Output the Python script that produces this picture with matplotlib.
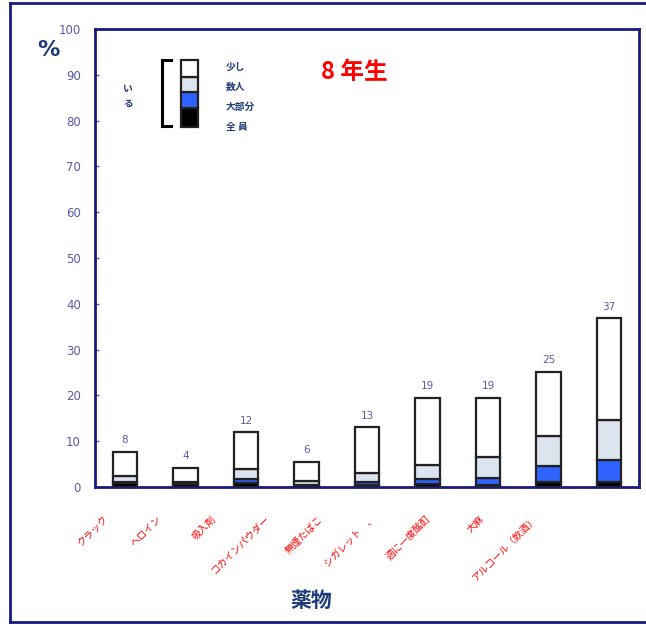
import numpy as np
import matplotlib
matplotlib.use('Agg')
import matplotlib.pyplot as plt
from matplotlib.patches import Rectangle
from matplotlib.lines import Line2D
from matplotlib.transforms import blended_transform_factory

plt.rcParams['font.family'] = ['Noto Sans CJK JP', 'DejaVu Sans']

# drugs (x categories)
drugs = ['クラック', 'ヘロイン', '吸入剤', 'コカインパウダー', '無煙たばこ',
         'シガレット　、', '週に一度酩酊', '大麻', 'アルコール（飲酒）']
# friends who use: all / most / some / a few  (% of 8th graders)
all_friends = [0.8, 0.6, 0.8, 0.5, 0.5, 0.6, 0.5, 1.0, 1.0]
most_friends = [0.2, 0.0, 0.9, 0.0, 0.5, 1.1, 1.4, 3.5, 4.9]
some_friends = [1.3, 0.6, 2.3, 0.8, 2.1, 3.1, 4.7, 6.7, 8.8]
few_friends = [5.3, 2.9, 7.9, 4.1, 9.9, 14.6, 12.8, 13.9, 22.1]
total_labels = ['8', '4', '12', '6', '13', '19', '19', '25', '37']

seg_names = ['全 員', '大部分', '数人', '少し']
seg_colors = ['#000000', '#2f62ff', '#dce4ee', '#ffffff']

navy = '#1a1a80'
tick_col = '#5a5aa6'

fig = plt.figure(figsize=(6.46, 6.25), dpi=100)
ax = fig.add_axes([0.1467, 0.2208, 0.843, 0.7328])

x = np.arange(len(drugs))
bottom = np.zeros(len(drugs))
for vals, col in zip([all_friends, most_friends, some_friends, few_friends], seg_colors):
    ax.bar(x, vals, bottom=bottom, width=0.41, color=col,
           edgecolor='#222222', linewidth=1.6, zorder=3)
    bottom = bottom + np.array(vals)

for xi, top, lab in zip(x, bottom, total_labels):
    ax.annotate(lab, (xi, top), xytext=(0, 5), textcoords='offset points',
                ha='center', va='bottom', fontsize=7.5, color=tick_col,
                family='DejaVu Sans')

ax.set_xlim(-0.5, 8.5)
ax.set_ylim(0, 100)
ax.set_yticks(np.arange(0, 101, 10))
ax.set_yticklabels([str(v) for v in range(0, 101, 10)], family='DejaVu Sans')
ax.tick_params(axis='y', direction='in', length=3, width=1, color=tick_col,
               labelcolor=tick_col, labelsize=8.5, pad=10)
ax.set_xticks([])
for sp in ax.spines.values():
    sp.set_color(navy)
    sp.set_linewidth(2)

# rotated drug names
trans = blended_transform_factory(ax.transData, ax.transAxes)
for i, name in enumerate(drugs):
    ax.text(-0.25 + 0.888 * i, -0.058, name, transform=trans, rotation=45,
            ha='right', va='top', fontsize=7, color='#ff0000', clip_on=False)

ax.text(0.397, -0.247, '薬物', transform=ax.transAxes, ha='center', va='center',
        fontsize=15, fontweight='bold', color='#1f3a78')
fig.text(48 / 646, 1 - 50 / 625, '%', ha='center', va='center', fontsize=16,
         fontweight='bold', color='#1f3a78', family='DejaVu Sans')

ax.text(0.476, 0.906, '8 年生', transform=ax.transAxes, ha='center', va='center',
        fontsize=17, fontweight='bold', color='#ff0000')

# legend: small stacked bar with bracket
leg_y = [0.786, 0.828, 0.862, 0.895, 0.932]
for k, col in enumerate(seg_colors):
    ax.add_patch(Rectangle((0.158, leg_y[k]), 0.032, leg_y[k + 1] - leg_y[k],
                           transform=ax.transAxes, facecolor=col,
                           edgecolor='#222222', linewidth=1.6, zorder=4))
lab_y = [0.786, 0.830, 0.873, 0.917]
for name, yy in zip(seg_names, lab_y):
    ax.text(0.241, yy, name, transform=ax.transAxes, ha='left', va='center',
            fontsize=7, fontweight='bold', color='#1f3a78')
bx, tx = 0.123, 0.140
ax.add_line(Line2D([tx, bx, bx, tx], [0.932, 0.932, 0.788, 0.788],
                   transform=ax.transAxes, color='black', linewidth=2.2,
                   solid_joinstyle='miter'))
ax.text(0.061, 0.853, 'い\nる', transform=ax.transAxes, ha='center', va='center',
        fontsize=7, fontweight='bold', color='#1f3a78', linespacing=1.6)

# outer frame
for xs, ys in [([10 / 646, 10 / 646], [3 / 625, 622 / 625]),
               ([10 / 646, 1.0], [622 / 625, 622 / 625]),
               ([10 / 646, 1.0], [3 / 625, 3 / 625])]:
    fig.add_artist(Line2D(xs, [1 - y for y in ys], transform=fig.transFigure,
                          color=navy, linewidth=2))

fig.savefig('out.png', dpi=100)
